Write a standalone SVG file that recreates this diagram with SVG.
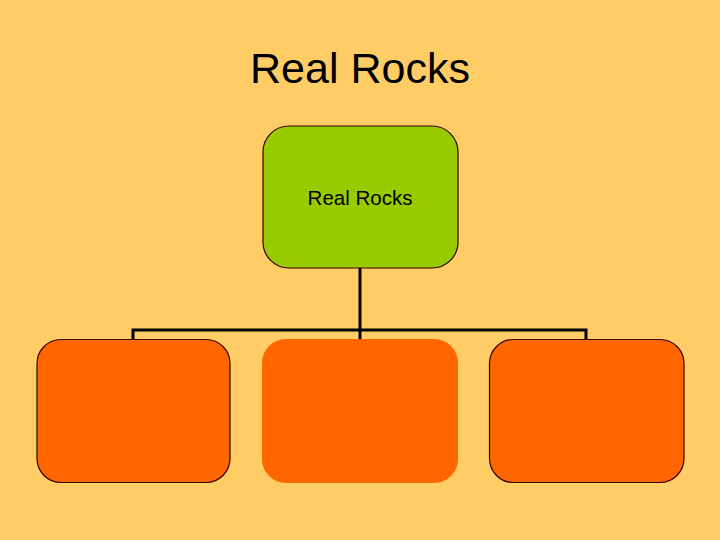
<svg xmlns="http://www.w3.org/2000/svg" width="720" height="540" viewBox="0 0 720 540">
<style>
.t{font-family:"Liberation Sans",Arial,sans-serif;fill:#000}
.c{fill:none;stroke:#000;stroke-width:3}
.o{fill:#FF6600;stroke:#330000;stroke-width:1.2}
</style>
<rect width="720" height="540" fill="#FFCC66"/>
<text class="t" x="360" y="83" font-size="43" text-anchor="middle">Real Rocks</text>
<g id="connectors">
<path class="c" d="M360 268V340M133 340V330H586V340"/>
</g>
<g id="root">
<rect x="263" y="126" width="195" height="142" rx="26" fill="#99CC00" stroke="#330000" stroke-width="1.2"/>
<text class="t" x="360" y="205" font-size="20.5" text-anchor="middle">Real Rocks</text>
</g>
<g id="child1"><rect class="o" x="37" y="339.5" width="193" height="143" rx="24"/></g>
<g id="child2"><rect x="262" y="339" width="196" height="144" rx="24" fill="#FF6600"/></g>
<g id="child3"><rect class="o" x="489.5" y="339.5" width="194.5" height="143" rx="24"/></g>
</svg>
